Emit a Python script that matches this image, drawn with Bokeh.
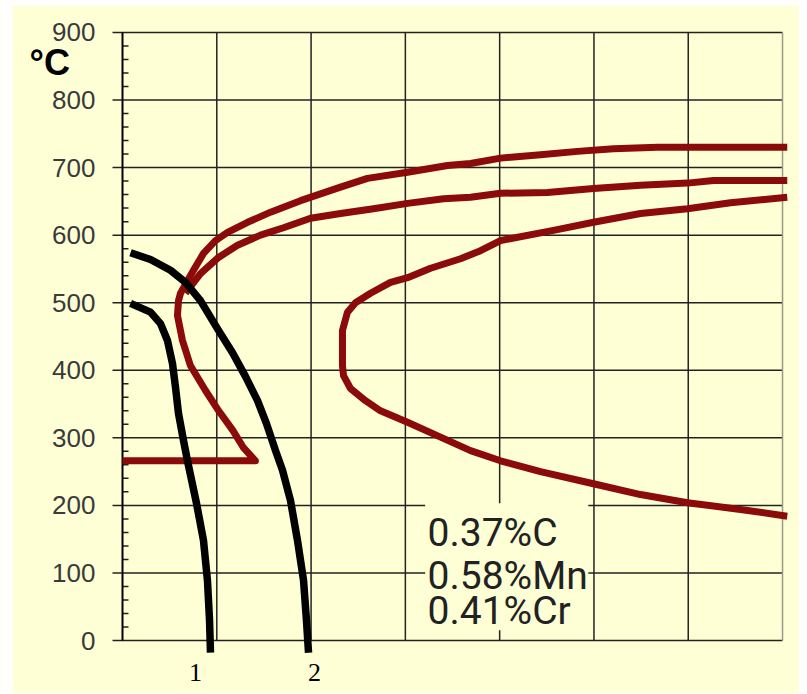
from bokeh.plotting import figure
from bokeh.models import Range1d
from bokeh.embed import file_html
from bokeh.resources import INLINE
from bokeh.core.properties import value

# ---- data (x = log time, unlabelled decades; y = temperature in °C) ----
temp_ticks = [0, 100, 200, 300, 400, 500, 600, 700, 800, 900]
temp_labels = [str(t) for t in temp_ticks]
time_grid = [1, 2, 3, 4, 5, 6]
time_end = 7

# outer transformation curve, incl. Ms line (~266 °C) and lower branch
curve_a_x = [0.0, 1.41, 1.28, 1.17, 1.02, 0.88, 0.72, 0.636, 0.583, 0.594, 0.615,
             0.753, 0.859, 0.986, 1.114, 1.326, 1.57, 1.888, 2.312, 2.598, 3.023,
             3.447, 3.691, 4.009, 4.433, 4.826, 5.207, 5.674, 7.05]
curve_a_y = [266, 266, 286, 311, 340, 370, 407, 444, 481, 503, 514,
             548, 573, 592, 604, 619, 634, 651, 671, 684, 693,
             703, 706, 714, 719, 724, 728, 730, 730]

# second (inner upper) curve, ends ~680 °C
curve_b_x = [0.668, 0.827, 1.018, 1.22, 1.464, 1.707, 1.994, 2.312, 2.662, 3.023,
             3.404, 3.691, 4.009, 4.507, 4.995, 5.494, 5.992, 6.268, 7.05]
curve_b_y = [514, 543, 567, 585, 600, 611, 625, 632, 639, 647,
             654, 656, 662, 663, 669, 674, 677, 681, 681]

# C-shaped curve (nose ~ 400 °C)
curve_c_x = [7.05, 6.448, 5.992, 5.494, 4.995, 4.571, 4.009, 3.797, 3.585, 3.267,
             3.023, 2.842, 2.63, 2.471, 2.386, 2.333, 2.333, 2.333, 2.344, 2.418,
             2.577, 2.736, 3.023, 3.373, 3.691, 4.009, 4.433, 4.995, 5.494, 5.992,
             6.554, 7.05]
curve_c_y = [656, 648, 639, 632, 619, 607, 592, 577, 565, 551,
             537, 530, 514, 500, 486, 459, 429, 407, 392, 373,
             355, 340, 323, 301, 281, 266, 250, 232, 216, 204,
             194, 184]

# cooling curves 1 and 2
cool1_x = [0.085, 0.297, 0.403, 0.477, 0.53, 0.562, 0.594, 0.647, 0.689, 0.785,
           0.859, 0.901, 0.923, 0.933]
cool1_y = [499, 486, 469, 444, 410, 375, 336, 296, 266, 203,
           148, 89, 30, -18]
cool2_x = [0.085, 0.297, 0.509, 0.668, 0.827, 1.018, 1.167, 1.304, 1.432, 1.527,
           1.623, 1.697, 1.782, 1.856, 1.92, 1.951, 1.973]
cool2_y = [574, 564, 548, 530, 503, 459, 426, 391, 355, 321,
           281, 252, 207, 148, 89, 30, -18]

cool_labels = ["1", "2"]
cool_label_x = [0.774, 2.036]
comp_labels = ["0.37%C", "0.58%Mn", "0.41%Cr"]

BG = "#FFFFD6"
RED = "#8B0A0A"
GRID = "#222222"

# pixel scale of the chart: 94.29 px per time decade, 0.6756 px per °C
PX_X = 94.29
PX_Y = 0.6756
W, H = 799, 693
X0 = -122 / PX_X
X1 = (W - 122) / PX_X
Y1 = 640 / PX_Y
Y0 = (640 - H) / PX_Y

p = figure(width=W, height=H, output_backend="svg", toolbar_location=None,
           title=None, x_range=Range1d(X0, X1), y_range=Range1d(Y0, Y1),
           x_axis_location=None, y_axis_location=None, min_border=0)
p.background_fill_color = BG
p.border_fill_color = BG
p.outline_line_color = None
p.grid.visible = False

# white page strips (left and top) as in the reference image
p.quad(left=[X0, X0], right=[(12 - 122) / PX_X, X1],
       bottom=[Y0, (640 - 5) / PX_Y], top=[Y1, Y1],
       fill_color="white", line_color=None)

# horizontal grid lines (extend 10 px left of the axis as major ticks)
p.segment(x0=[-10 / PX_X] * len(temp_ticks), y0=temp_ticks,
          x1=[time_end] * len(temp_ticks), y1=temp_ticks,
          line_color=GRID, line_width=1.5)
# vertical grid lines
p.segment(x0=time_grid, y0=[temp_ticks[0]] * len(time_grid),
          x1=time_grid, y1=[temp_ticks[-1]] * len(time_grid),
          line_color=GRID, line_width=1.5)
# right border
p.segment(x0=[time_end], y0=[temp_ticks[0]], x1=[time_end], y1=[temp_ticks[-1]],
          line_color="#9a9a8a", line_width=1.5)
# minor ticks (every 20 °C), inside the axis
minor = [t + 20 * k for t in temp_ticks[:-1] for k in range(1, 5)]
p.segment(x0=[0] * len(minor), y0=minor, x1=[6 / PX_X] * len(minor), y1=minor,
          line_color=GRID, line_width=1.5)
# y axis line
p.segment(x0=[0], y0=[temp_ticks[0]], x1=[0], y1=[temp_ticks[-1]],
          line_color="black", line_width=2)

# tick labels
p.text(x=[-27 / PX_X] * len(temp_ticks), y=temp_ticks, text=temp_labels,
       text_font=value("Liberation Sans"), text_font_size="26px",
       text_color="#3a3a3a", text_align="right", text_baseline="middle")

# transformation curves
for xs, ys in [(curve_a_x, curve_a_y), (curve_b_x, curve_b_y), (curve_c_x, curve_c_y)]:
    p.line(xs, ys, line_color=RED, line_width=7, line_join="round")

# cooling curves
for xs, ys in [(cool1_x, cool1_y), (cool2_x, cool2_y)]:
    p.line(xs, ys, line_color="black", line_width=7.5, line_join="round")

# composition box
p.quad(left=[3.21], right=[4.94], bottom=[15], top=[203], fill_color=BG, line_color=None)
p.text(x=[3.235] * 3, y=[159, 95, 43], text=comp_labels,
       text_font=value("Roboto"), text_font_size="39px", text_color="#222222",
       text_align="left", text_baseline="middle")

# unit label
p.text(x=[-0.986], y=[856], text=["°C"], text_font=value("Liberation Sans"),
       text_font_style="bold", text_font_size="36px", text_color="black",
       text_align="left", text_baseline="middle")

# curve numbers
p.text(x=cool_label_x, y=[-48, -48], text=cool_labels,
       text_font=value("Liberation Serif"), text_font_size="26px",
       text_color="black", text_align="center", text_baseline="middle")

open("out.html", "w").write(file_html(p, INLINE))
